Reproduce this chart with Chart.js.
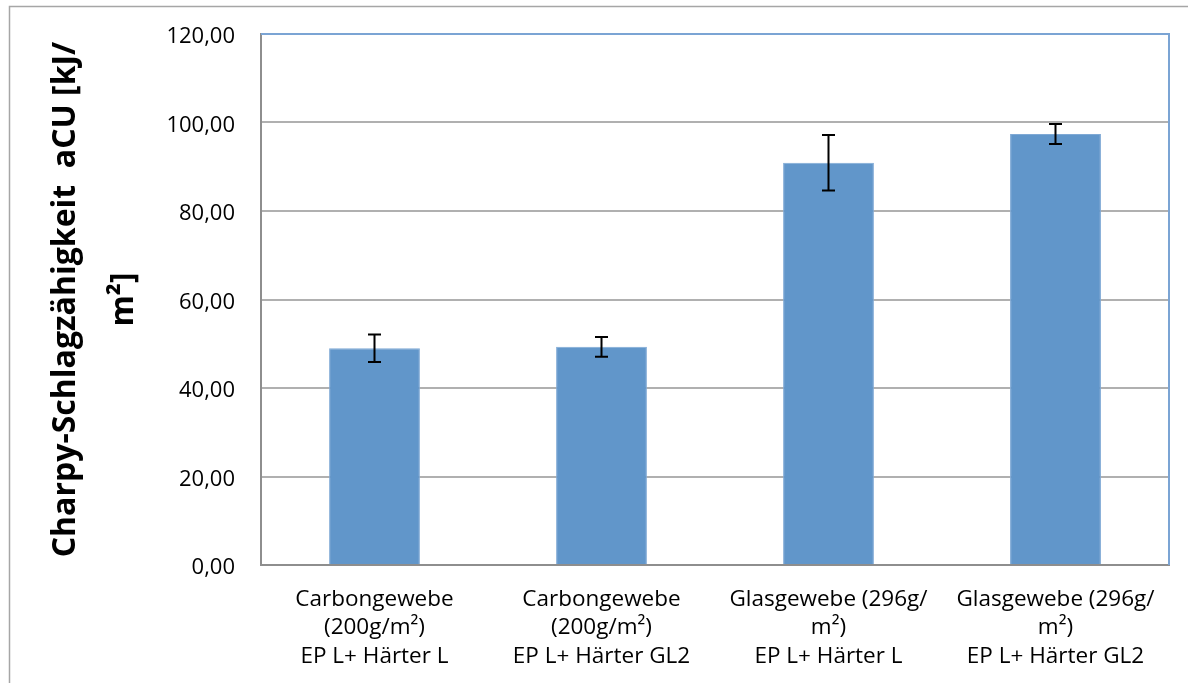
<!DOCTYPE html>
<html>
<head>
<meta charset="utf-8">
<script src="https://cdn.jsdelivr.net/npm/chart.js@4/dist/chart.umd.min.js"></script>
<style>
html,body{margin:0;padding:0;background:#fff;}
#wrap{width:1188px;height:683px;position:relative;}
</style>
</head>
<body>
<div id="wrap"><canvas id="c" width="1188" height="683"></canvas></div>
<script>
const categories = [
  ['Carbongewebe', '(200g/m²)', 'EP L+ Härter L'],
  ['Carbongewebe', '(200g/m²)', 'EP L+ Härter GL2'],
  ['Glasgewebe (296g/', 'm²)', 'EP L+ Härter L'],
  ['Glasgewebe (296g/', 'm²)', 'EP L+ Härter GL2']
];
const values = [49.0, 49.3, 90.9, 97.4];
const errors = [3.1, 2.25, 6.25, 2.25];
const yTitle = ['Charpy-Schlagzähigkeit  aCU [kJ/', 'm²]'];
const yMin = 0, yMax = 120, yStep = 20;

const errorBars = {
  id: 'errorBars',
  afterDatasetsDraw(chart) {
    const ctx = chart.ctx;
    const meta = chart.getDatasetMeta(0);
    const ys = chart.scales.y;
    ctx.save();
    ctx.strokeStyle = '#000';
    ctx.lineWidth = 2;
    meta.data.forEach((bar, i) => {
      const x = bar.x;
      const yt = ys.getPixelForValue(values[i] + errors[i]);
      const yb = ys.getPixelForValue(values[i] - errors[i]);
      const cap = 6.5;
      ctx.beginPath();
      ctx.moveTo(x, yt); ctx.lineTo(x, yb);
      ctx.moveTo(x - cap, yt); ctx.lineTo(x + cap, yt);
      ctx.moveTo(x - cap, yb); ctx.lineTo(x + cap, yb);
      ctx.stroke();
    });
    ctx.restore();
  }
};

const frame = {
  id: 'frame',
  beforeDraw(chart) {
    const ctx = chart.ctx;
    ctx.save();
    ctx.strokeStyle = '#A6A6A6';
    ctx.lineWidth = 1.5;
    ctx.beginPath();
    ctx.moveTo(9.5, 683); ctx.lineTo(9.5, 6.5); ctx.lineTo(1188, 6.5);
    ctx.stroke();
    ctx.restore();
  },
  afterDraw(chart) {
    const a = chart.chartArea;
    const ctx = chart.ctx;
    ctx.save();
    ctx.strokeStyle = '#7BA4D4';
    ctx.lineWidth = 2;
    ctx.beginPath();
    ctx.moveTo(a.left, a.top); ctx.lineTo(a.right, a.top); ctx.lineTo(a.right, a.bottom);
    ctx.stroke();
    ctx.restore();
  }
};

new Chart(document.getElementById('c'), {
  type: 'bar',
  data: {
    labels: categories,
    datasets: [{
      data: values,
      backgroundColor: '#6196CA',
      borderColor: '#7FA9D5',
      borderWidth: 1,
      barPercentage: 0.4,
      categoryPercentage: 1.0
    }]
  },
  options: {
    responsive: false,
    animation: false,
    events: [],
    layout: { padding: { left: 18, top: 34, right: 19, bottom: 0 } },
    plugins: { legend: { display: false }, tooltip: { enabled: false } },
    scales: {
      x: {
        grid: { display: false, drawTicks: false },
        border: { display: true, color: '#8E8E8E', width: 2 },
        ticks: {
          color: '#000',
          font: { family: 'Open Sans', size: 22.5, lineHeight: '28.5px' },
          padding: 20,
          maxRotation: 0,
          autoSkip: false
        },
        afterFit(scale) { scale.height = 118; scale.paddingLeft = 0; scale.paddingRight = 0; }
      },
      y: {
        min: yMin, max: yMax,
        grid: { color: '#B0B0B0', lineWidth: 2, drawTicks: false },
        border: { display: true, color: '#8E8E8E', width: 2 },
        ticks: {
          stepSize: yStep,
          color: '#000',
          padding: 26,
          labelOffset: 3,
          font: { family: 'Open Sans', size: 22 },
          callback: (v) => v.toFixed(2).replace('.', ',')
        },
        title: {
          display: true,
          text: yTitle,
          color: '#000',
          font: { family: 'Open Sans', size: 32, weight: 'bold', lineHeight: '58px' },
          padding: { top: 19, bottom: 0 }
        },
        afterFit(scale) { scale.width = 243; scale.paddingTop = 0; scale.paddingBottom = 0; }
      }
    }
  },
  plugins: [errorBars, frame]
});
</script>
</body>
</html>
